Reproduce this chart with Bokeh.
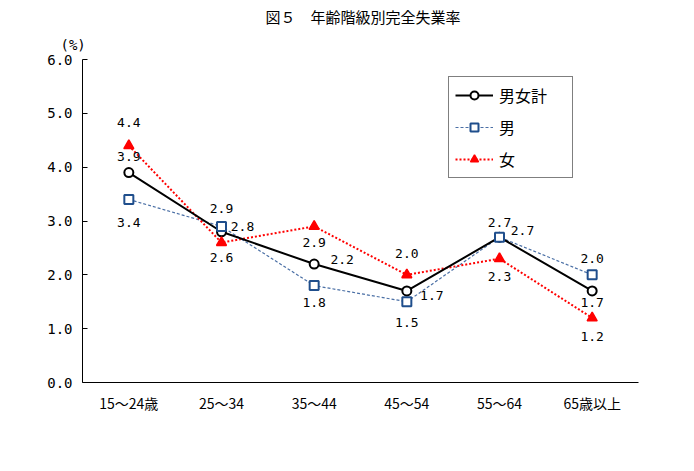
from bokeh.plotting import figure
from bokeh.models import ColumnDataSource, Legend, LegendItem, Title, FixedTicker, Range1d
from bokeh.core.properties import value
from bokeh.embed import file_html
from bokeh.resources import INLINE

categories = ["15～24歳", "25～34", "35～44", "45～54", "55～64", "65歳以上"]
total = [3.9, 2.8, 2.2, 1.7, 2.7, 1.7]
male = [3.4, 2.9, 1.8, 1.5, 2.7, 2.0]
female = [4.4, 2.6, 2.9, 2.0, 2.3, 1.2]
y_ticks = [0, 1, 2, 3, 4, 5, 6]

# label offsets in pixels (style only)
total_dx = [0, 21, 28, 25, 23, 0]
total_dy = [-16, -5, -5, 5, -7, 12]
male_dx = [0, 0, 0, 0, 0, 0]
male_dy = [23, -18, 17, 21, -15, -16]
female_dx = [0, 0, 0, 0, 0, 0]
female_dy = [-23, 15, 16, -21, 18, 19]

xs = [i + 0.5 for i in range(len(categories))]

p = figure(width=678, height=450, output_backend="svg", toolbar_location=None,
           x_range=Range1d(0, len(categories)), y_range=Range1d(0, 6),
           min_border_left=82, min_border_right=40, min_border_top=59, min_border_bottom=68)
p.outline_line_color = None
p.xgrid.visible = False
p.ygrid.visible = False
p.background_fill_color = "white"
p.border_fill_color = "white"

# axes
p.xaxis.ticker = FixedTicker(ticks=xs)
p.xaxis.major_label_overrides = {x: c for x, c in zip(xs, categories)}
p.xaxis.major_tick_in = 0
p.xaxis.major_tick_out = 0
p.xaxis.minor_tick_line_color = None
p.xaxis.axis_line_color = "black"
p.xaxis.major_label_text_font = "Noto Sans CJK JP"
p.xaxis.major_label_text_font_size = "14px"
p.xaxis.major_label_text_color = "black"
p.xaxis.major_label_standoff = 10

p.yaxis.ticker = FixedTicker(ticks=y_ticks)
p.yaxis.major_label_overrides = {t: f"{t:.1f}" for t in y_ticks}
p.yaxis.major_tick_in = 5
p.yaxis.major_tick_out = 0
p.yaxis.minor_tick_line_color = None
p.yaxis.axis_line_color = "black"
p.yaxis.major_tick_line_color = "black"
p.yaxis.major_label_text_font = "DejaVu Sans Mono"
p.yaxis.major_label_text_font_size = "14px"
p.yaxis.major_label_text_color = "black"
p.yaxis.major_label_standoff = 10

src = ColumnDataSource(dict(x=xs, total=total, male=male, female=female,
                            tl=[f"{v:.1f}" for v in total], ml=[f"{v:.1f}" for v in male],
                            fl=[f"{v:.1f}" for v in female],
                            tdx=total_dx, tdy=total_dy, mdx=male_dx, mdy=male_dy,
                            fdx=female_dx, fdy=female_dy))

male_line = p.line("x", "male", source=src, line_color="#4a6fa5", line_width=1.2, line_dash="3 2")
female_line = p.line("x", "female", source=src, line_color="#ff0000", line_width=2, line_dash="2 2")
total_line = p.line("x", "total", source=src, line_color="black", line_width=2)

total_m = p.scatter("x", "total", source=src, marker="circle", size=9, line_color="black",
                    line_width=2, fill_color="white")
male_m = p.scatter("x", "male", source=src, marker="square", size=9, line_color="#1f4e8c",
                   line_width=2, fill_color="white")
female_m = p.scatter("x", "female", source=src, marker="triangle", size=10, line_color="#ff0000",
                     line_width=1.5, fill_color="#ff0000")

for col, dx, dy in [("tl", "tdx", "tdy"), ("ml", "mdx", "mdy"), ("fl", "fdx", "fdy")]:
    ycol = {"tl": "total", "ml": "male", "fl": "female"}[col]
    p.text(x="x", y=ycol, text=col, x_offset=dx, y_offset=dy, source=src,
           text_align="center", text_baseline="middle",
           text_font=value("DejaVu Sans Mono"), text_font_size="13px", text_color="black")

legend = Legend(items=[
    LegendItem(label="男女計", renderers=[total_line, total_m]),
    LegendItem(label="男", renderers=[male_line, male_m]),
    LegendItem(label="女", renderers=[female_line, female_m]),
], location=(366, 204))
legend.border_line_color = "black"
legend.border_line_width = 1
legend.background_fill_color = "white"
legend.background_fill_alpha = 1
legend.label_text_font = "Noto Sans CJK JP"
legend.label_text_font_size = "16px"
legend.label_text_color = "black"
legend.glyph_width = 38
legend.glyph_height = 20
legend.label_height = 20
legend.label_width = 67
legend.label_standoff = 6
legend.spacing = 8
legend.padding = 6
legend.margin = 0
p.add_layout(legend, "center")

p.title.text = "図５　年齢階級別完全失業率"
p.title.align = "left"
p.title.offset = 183
p.title.standoff = 4
p.title.text_font = "Noto Sans CJK JP"
p.title.text_font_size = "15px"
p.title.text_font_style = "normal"
p.title.text_color = "black"

unit = Title(text="(%)", align="left", offset=-22, text_font="DejaVu Sans Mono",
             text_font_size="14px", text_font_style="normal", text_color="black", standoff=13)
p.add_layout(unit, "above")

open("out.html", "w").write(file_html(p, INLINE))
